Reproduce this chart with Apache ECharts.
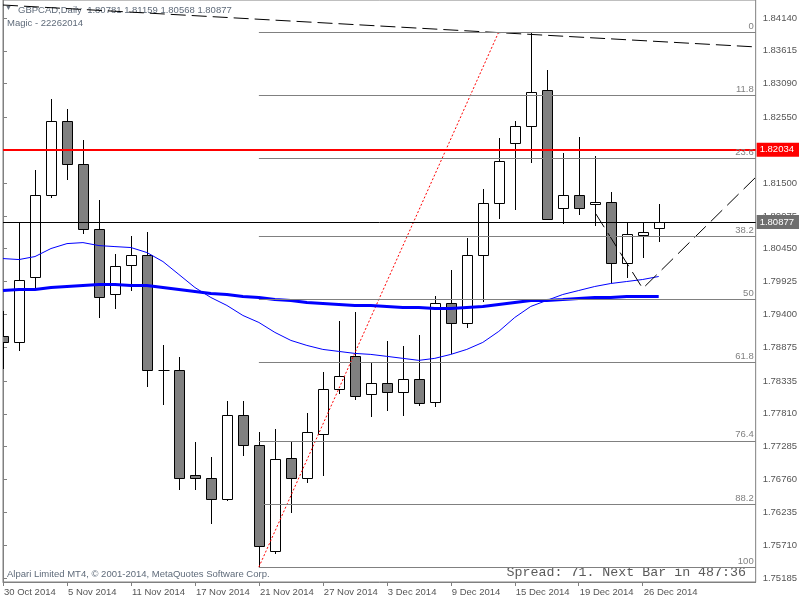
<!DOCTYPE html>
<html><head><meta charset="utf-8">
<script src="https://cdn.jsdelivr.net/npm/echarts@6/dist/echarts.min.js"></script>
<style>html,body{margin:0;padding:0;background:#fff}#c{width:800px;height:600px}</style>
</head><body><div id="c"></div>
<script>
const dates = ['30 Oct 2014','31 Oct 2014','3 Nov 2014','4 Nov 2014','5 Nov 2014','6 Nov 2014','7 Nov 2014','10 Nov 2014','11 Nov 2014','12 Nov 2014','13 Nov 2014','14 Nov 2014','17 Nov 2014','18 Nov 2014','19 Nov 2014','20 Nov 2014','21 Nov 2014','24 Nov 2014','25 Nov 2014','26 Nov 2014','27 Nov 2014','28 Nov 2014','1 Dec 2014','2 Dec 2014','3 Dec 2014','4 Dec 2014','5 Dec 2014','8 Dec 2014','9 Dec 2014','10 Dec 2014','11 Dec 2014','12 Dec 2014','15 Dec 2014','16 Dec 2014','17 Dec 2014','18 Dec 2014','19 Dec 2014','22 Dec 2014','23 Dec 2014','24 Dec 2014','26 Dec 2014','29 Dec 2014'];
const opens  = [1.79048,1.78952,1.79990,1.81315,1.82496,1.81809,1.80772,1.79734,1.80197,1.80357,1.78505,1.78505,1.76829,1.76781,1.76446,1.77787,1.77308,1.75616,1.77100,1.76781,1.77483,1.78202,1.78729,1.78122,1.78298,1.78154,1.78361,1.77994,1.79575,1.79255,1.80357,1.81187,1.82145,1.82416,1.82991,1.81107,1.81315,1.81171,1.81203,1.80229,1.80676,1.80781];
const highs  = [1.79447,1.80884,1.81714,1.82847,1.82687,1.82193,1.81235,1.80373,1.80660,1.80724,1.78904,1.78713,1.77356,1.77116,1.78010,1.78010,1.77515,1.77563,1.77356,1.77819,1.78473,1.79287,1.79431,1.78617,1.78968,1.78888,1.79064,1.79702,1.80117,1.80628,1.81410,1.82224,1.82496,1.83917,1.83310,1.81985,1.82240,1.81937,1.81362,1.80884,1.80884,1.81159];
const lows   = [1.78537,1.78824,1.79814,1.81283,1.81570,1.80708,1.79351,1.79495,1.79798,1.78250,1.77962,1.76605,1.76605,1.76063,1.76440,1.77148,1.75360,1.75584,1.76238,1.76717,1.76829,1.78138,1.78042,1.77771,1.77867,1.77787,1.77946,1.77930,1.78776,1.79192,1.79607,1.80947,1.81091,1.81841,1.80925,1.80868,1.81011,1.80836,1.79926,1.79990,1.80325,1.80568];
const closes = [1.78952,1.79942,1.81315,1.82496,1.81809,1.80772,1.79686,1.80181,1.80357,1.78505,1.78505,1.76781,1.76781,1.76446,1.77787,1.77308,1.75696,1.77084,1.76781,1.77515,1.78202,1.78409,1.78090,1.78298,1.78154,1.78361,1.77978,1.79575,1.79255,1.80357,1.81187,1.81857,1.82416,1.82959,1.80931,1.81315,1.81107,1.81203,1.80229,1.80692,1.80724,1.80877];
const maFast = [1.80293,1.80277,1.80325,1.80453,1.80532,1.80548,1.80500,1.80484,1.80469,1.80389,1.80245,1.80038,1.79830,1.79670,1.79543,1.79383,1.79271,1.79112,1.78984,1.78904,1.78840,1.78808,1.78776,1.78760,1.78729,1.78697,1.78665,1.78697,1.78760,1.78840,1.78952,1.79128,1.79351,1.79527,1.79623,1.79718,1.79782,1.79846,1.79894,1.79926,1.79958,1.80006];
const maSlow = [1.79782,1.79798,1.79798,1.79830,1.79846,1.79862,1.79878,1.79878,1.79862,1.79862,1.79830,1.79798,1.79766,1.79734,1.79718,1.79686,1.79670,1.79638,1.79623,1.79591,1.79575,1.79559,1.79543,1.79543,1.79527,1.79511,1.79511,1.79495,1.79495,1.79511,1.79527,1.79559,1.79591,1.79623,1.79623,1.79638,1.79654,1.79670,1.79670,1.79686,1.79686,1.79686];
const yTicks = [1.84140,1.83615,1.83090,1.82550,1.81500,1.80975,1.80450,1.79925,1.79400,1.78875,1.78335,1.77810,1.77285,1.76760,1.76235,1.75710,1.75185];
const xTicks = [0,4,8,12,16,20,24,28,32,36,40];
const fibLevels = [0,11.8,23.6,38.2,50,61.8,76.4,88.2,100];
const fibLowIdx = 16, fibHighIdx = 33, fibLineEndIdx = 31;
const redLevel = 1.82034;
const bidPrice = 1.80877;
const topTrend = [[0,1.84347],[47.0625,1.83677]];
const zigzag = [[37.06,1.81011],[40,1.79814],[47.1,1.81602]];
const X_MAX = 47.0625, Y_MIN = 1.751209, Y_MAX = 1.844273;

const fibHigh = highs[fibHighIdx], fibLow = lows[fibLowIdx];
const fibData = fibLevels.map(L => {
  const p = fibHigh - (fibHigh - fibLow) * L / 100;
  return [{coord:[fibLowIdx, p], name:String(L)}, {coord:[X_MAX, p]}];
});

const candleData = dates.map((d,i)=>[i, opens[i], closes[i], lows[i], highs[i]]);

function renderCandle(params, api){
  const i = api.value(0), o = api.value(1), c = api.value(2), l = api.value(3), h = api.value(4);
  const pO = api.coord([i,o]), pC = api.coord([i,c]), pL = api.coord([i,l]), pH = api.coord([i,h]);
  const half = Math.round(api.size([1,0])[0]*0.31);
  const x = Math.round(pO[0]) + 0.5;
  const top = Math.round(Math.min(pO[1],pC[1])) + 0.5;
  const bot = Math.round(Math.max(pO[1],pC[1])) + 0.5;
  const children = [
    {type:'line', shape:{x1:x, y1:Math.round(pH[1]), x2:x, y2:Math.round(pL[1])+1}, style:{stroke:'#000', lineWidth:1}}
  ];
  if (bot - top < 1) {
    children.push({type:'line', shape:{x1:x-half, y1:top, x2:x+half+1, y2:top}, style:{stroke:'#000', lineWidth:1}});
  } else {
    children.push({type:'rect', shape:{x:x-half, y:top, width:2*half, height:bot-top}, style:{fill: c>o ? '#ffffff' : '#808080', stroke:'#000', lineWidth:1}});
  }
  return {type:'group', children};
}

const FONT = 'Liberation Sans';
const chart = echarts.init(document.getElementById('c'), null, {renderer:'canvas'});
chart.setOption({
  animation:false,
  backgroundColor:'#ffffff',
  grid:{left:3, right:44, top:-1, bottom:18, show:true, borderColor:'#808080', borderWidth:1, backgroundColor:'transparent'},
  xAxis:{type:'value', min:0, max:X_MAX, splitLine:{show:false},
    axisLine:{show:true, lineStyle:{color:'#808080'}},
    axisTick:{show:true, customValues:xTicks, length:4, lineStyle:{color:'#808080'}},
    axisLabel:{customValues:xTicks, formatter:v=>dates[v]||'', align:'left', margin:5, padding:[0,0,0,1], color:'#555', fontFamily:FONT, fontSize:9.5}
  },
  yAxis:{type:'value', position:'right', min:Y_MIN, max:Y_MAX, scale:true, splitLine:{show:false},
    axisLine:{show:true, lineStyle:{color:'#808080'}},
    axisTick:{show:true, customValues:yTicks, length:4, lineStyle:{color:'#808080'}},
    axisLabel:{customValues:yTicks, formatter:v=>v.toFixed(5), margin:7, color:'#555', fontFamily:FONT, fontSize:9.5}
  },
  series:[
    {type:'line', name:'fib', data:[], silent:true,
      markLine:{silent:true, symbol:['none','none'], animation:false, precision:5,
        lineStyle:{color:'#808080', width:1, type:'solid'},
        label:{show:true, position:'insideEndTop', formatter:'{b}', color:'#808080', fontFamily:FONT, fontSize:9.5, distance:[2,1]},
        data:fibData}
    },
    {type:'line', name:'fibTrend', data:[[fibLowIdx, fibLow],[fibLineEndIdx, fibHigh]], showSymbol:false, silent:true,
      lineStyle:{color:'#ff0000', width:1, type:[2,2]}},
    {type:'custom', name:'GBPCAD', data:candleData, renderItem:renderCandle, clip:true, silent:true, encode:{x:0, y:[1,2,3,4]}},
    {type:'line', name:'MA fast', data:maFast.map((v,i)=>[i,v]), showSymbol:false, silent:true, lineStyle:{color:'#0000ff', width:1}},
    {type:'line', name:'MA slow', data:maSlow.map((v,i)=>[i,v]), showSymbol:false, silent:true, lineStyle:{color:'#0000ff', width:3}},
    {type:'line', name:'topTrend', data:topTrend, showSymbol:false, silent:true, lineStyle:{color:'#000', width:1, type:[15,6]}},
    {type:'line', name:'zigzag', data:zigzag, showSymbol:false, silent:true, lineStyle:{color:'#000', width:1, type:[16,7]}},
    {type:'line', name:'levels', data:[], silent:true,
      markLine:{silent:true, symbol:['none','none'], animation:false, precision:5,
        data:[
          {yAxis:redLevel, lineStyle:{color:'#ff0000', width:2, type:'solid'},
            label:{show:true, position:'end', formatter:()=>redLevel.toFixed(5), backgroundColor:'#ff0000', color:'#fff', padding:[2,5,2,3], distance:1, fontFamily:FONT, fontSize:9.5, lineHeight:10}},
          {yAxis:bidPrice, lineStyle:{color:'#000', width:1, type:'solid'},
            label:{show:true, position:'end', formatter:()=>bidPrice.toFixed(5), backgroundColor:'#6e6e6e', color:'#fff', padding:[2,5,2,3], distance:1, fontFamily:FONT, fontSize:9.5, lineHeight:10}}
        ]}
    }
  ],
  graphic:[
    {type:'text', left:5, top:5, style:{text:'▼', fill:'#6a7380', font:'7px '+FONT}},
    {type:'text', left:18, top:5, style:{text:'GBPCAD,Daily  1.80781 1.81159 1.80568 1.80877', fill:'#5f6b7a', font:'9.5px '+FONT}},
    {type:'text', left:7, top:18, style:{text:'Magic - 22262014', fill:'#5f6b7a', font:'9.5px '+FONT}},
    {type:'text', left:7, top:569, style:{text:'Alpari Limited MT4, © 2001-2014, MetaQuotes Software Corp.', fill:'#5f6b7a', font:'9.5px '+FONT}},
    {type:'text', right:54, top:566, style:{text:'Spread: 71. Next Bar in 487:36', fill:'#5a5a5a', font:'13.3px Liberation Mono'}}
  ]
});
</script></body></html>
